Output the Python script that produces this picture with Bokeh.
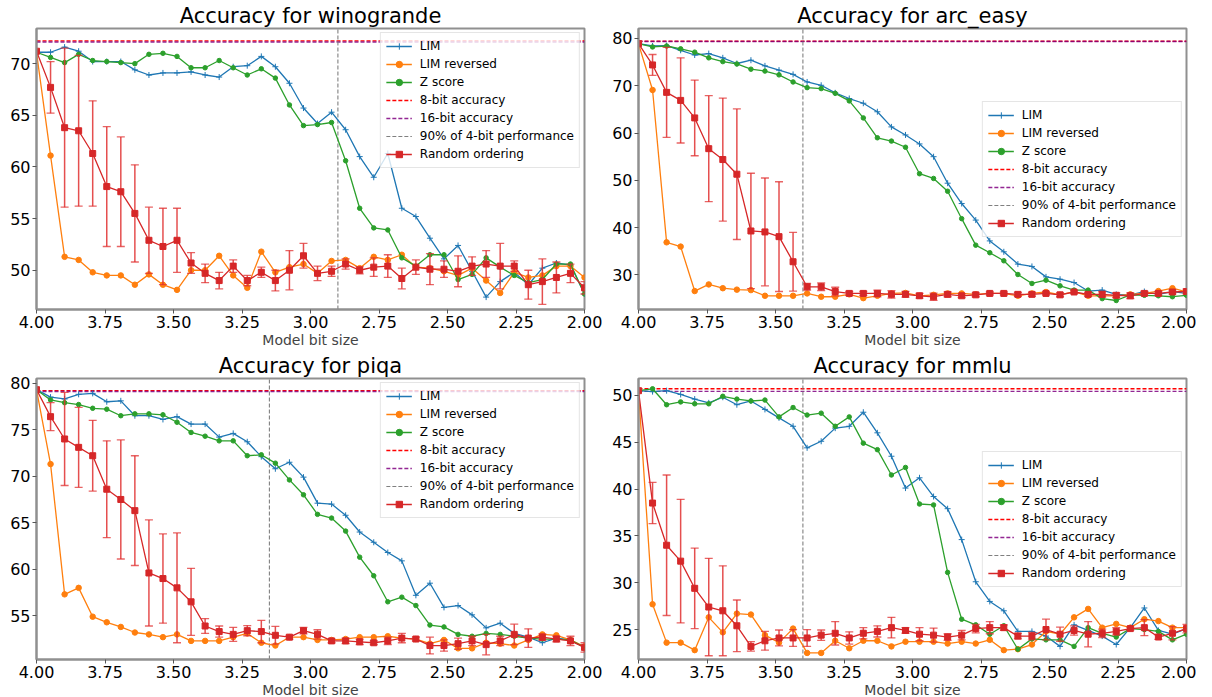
from bokeh.plotting import figure
from bokeh.models import Range1d, FixedTicker, NumeralTickFormatter, Legend, LegendItem, ColumnDataSource
from bokeh.layouts import column, row
from bokeh.embed import file_html
from bokeh.resources import INLINE

# ---------------- data ----------------
bits = [4.0, 3.9487, 3.8974, 3.8462, 3.7949, 3.7436, 3.6923, 3.6410, 3.5897, 3.5385,
        3.4872, 3.4359, 3.3846, 3.3333, 3.2821, 3.2308, 3.1795, 3.1282, 3.0769, 3.0256,
        2.9744, 2.9231, 2.8718, 2.8205, 2.7692, 2.7179, 2.6667, 2.6154, 2.5641, 2.5128,
        2.4615, 2.4103, 2.3590, 2.3077, 2.2564, 2.2051, 2.1538, 2.1026, 2.0513, 2.0]
x_ticks = [4.0, 3.75, 3.5, 3.25, 3.0, 2.75, 2.5, 2.25, 2.0]

# winogrande
wino_lim = [71.1, 71.1, 71.6, 71.2, 70.2, 70.2, 70.2, 69.4, 68.9, 69.1, 69.1, 69.2, 68.9, 68.7, 69.7, 69.8, 70.7, 69.7, 68.1, 65.7,
            64.2, 65.3, 63.6, 61.0, 59.0, 61.3, 56.0, 55.2, 53.1, 51.1, 52.4, 49.9, 47.4, 48.9, 49.8, 48.6, 50.2, 50.7, 50.5, 47.7]
wino_rev = [71.1, 61.1, 51.3, 51.0, 49.8, 49.5, 49.5, 48.6, 49.6, 48.6, 48.1, 50.0, 50.0, 51.4, 49.5, 48.3, 51.8, 49.8, 50.3, 50.6,
            49.7, 50.9, 51.0, 50.2, 51.3, 51.0, 51.5, 50.3, 50.2, 49.9, 49.5, 50.2, 49.0, 47.8, 49.8, 49.3, 49.5, 50.4, 50.4, 49.3]
wino_z = [71.1, 70.6, 70.1, 70.9, 70.3, 70.2, 70.1, 70.0, 70.9, 71.0, 70.7, 69.6, 69.6, 70.3, 69.6, 68.9, 69.5, 68.6, 66.0, 64.0,
          64.1, 64.3, 60.6, 56.0, 54.1, 53.9, 51.2, 50.4, 51.5, 51.5, 49.1, 49.6, 51.2, 50.3, 49.5, 48.8, 49.1, 50.6, 50.6, 47.7]
wino_rand = [71.2, 67.7, 63.8, 63.5, 61.3, 58.1, 57.6, 55.5, 52.9, 52.3, 52.9, 50.7, 49.7, 49.0, 50.4, 49.0, 49.8, 49.0, 50.0, 51.4,
             49.7, 49.9, 50.6, 50.0, 50.3, 50.4, 49.2, 50.3, 50.1, 50.1, 49.9, 50.4, 50.6, 50.4, 50.4, 48.6, 48.9, 49.3, 49.7, 48.3]
wino_err = [0, 2.5, 7.7, 7.3, 5.1, 5.8, 5.3, 4.7, 3.2, 3.7, 3.1, 1.0, 0.9, 0.8, 0.6, 0.5, 0.5, 1.0, 1.9, 1.2,
            0.7, 0.5, 0.5, 0.35, 0.9, 1.1, 1.0, 0.7, 1.5, 0.8, 1.5, 0.9, 1.3, 2.2, 0.5, 1.4, 2.2, 1.5, 0.9, 0.6]
wino_8bit, wino_16bit, wino_vline = 72.2, 72.1, 2.90

# arc_easy
arc_lim = [78.9, 78.4, 78.5, 77.5, 76.5, 76.8, 75.9, 74.7, 75.4, 74.2, 73.3, 72.4, 70.8, 70.1, 68.5, 67.3, 66.3, 64.5, 61.3, 59.6,
           57.7, 55.0, 49.4, 45.1, 41.6, 37.2, 34.9, 32.3, 31.8, 29.6, 29.1, 28.4, 26.6, 26.8, 25.9, 25.8, 26.5, 25.9, 26.5, 26.1]
arc_rev = [78.9, 69.1, 36.9, 36.0, 26.6, 28.0, 27.2, 26.9, 26.8, 25.6, 25.6, 25.6, 26.1, 25.4, 25.4, 25.9, 25.1, 25.6, 26.1, 26.2,
           25.6, 25.8, 26.1, 26.1, 25.9, 26.1, 26.1, 25.6, 26.1, 26.4, 25.8, 26.5, 25.6, 25.6, 25.6, 25.9, 26.1, 26.6, 27.2, 26.4]
arc_z = [78.9, 78.2, 78.4, 77.8, 77.1, 75.9, 75.1, 74.6, 73.5, 73.1, 72.3, 70.8, 69.6, 69.4, 68.4, 66.8, 63.2, 59.0, 58.3, 57.0,
         51.4, 50.4, 47.7, 41.9, 36.3, 34.7, 33.0, 30.1, 28.2, 28.9, 27.7, 26.8, 26.8, 25.0, 24.6, 25.8, 25.7, 25.6, 25.4, 25.7]
arc_rand = [78.9, 74.4, 68.6, 66.9, 63.2, 56.7, 54.4, 51.3, 39.3, 39.1, 38.1, 32.8, 27.5, 27.5, 26.5, 26.1, 26.1, 26.1, 25.9, 25.9,
            25.6, 25.4, 25.9, 25.6, 25.8, 26.1, 26.1, 25.9, 25.9, 26.1, 25.8, 26.4, 25.9, 25.9, 25.7, 25.6, 26.1, 26.1, 26.4, 26.5]
arc_err = [0, 2.2, 9.5, 9.0, 8.0, 11.2, 13.0, 13.8, 12.2, 11.4, 11.6, 6.2, 0.7, 0.8, 0.9, 0.4, 0.4, 0.7, 0.8, 0.6,
           0.5, 0.75, 0.5, 0.4, 0.4, 0.3, 0.3, 0.4, 0.4, 0.3, 0.4, 0.3, 0.4, 0.6, 0.5, 0.6, 0.4, 0.4, 0.4, 0.5]
arc_8bit, arc_16bit, arc_vline = 79.4, 79.35, 3.40

# piqa
piqa_lim = [79.3, 78.5, 78.3, 78.8, 78.9, 78.0, 78.1, 76.5, 76.5, 76.1, 76.4, 75.6, 75.6, 74.2, 74.6, 73.7, 72.1, 70.8, 71.5, 69.9,
            67.1, 67.0, 65.8, 64.0, 62.9, 61.8, 60.9, 57.2, 58.5, 55.9, 56.1, 55.1, 53.7, 54.2, 53.1, 52.7, 52.1, 52.6, 52.4, 51.6]
piqa_rev = [79.3, 71.3, 57.3, 58.0, 54.9, 54.3, 53.8, 53.2, 53.0, 52.7, 53.0, 52.3, 52.3, 52.3, 52.7, 53.1, 52.1, 51.8, 52.7, 52.7,
            52.4, 52.4, 52.5, 52.7, 52.7, 52.8, 52.6, 52.5, 52.0, 52.4, 51.5, 51.5, 52.1, 52.0, 51.8, 52.4, 53.0, 52.9, 52.4, 51.7]
piqa_z = [79.3, 78.2, 77.9, 77.7, 77.3, 77.2, 76.5, 76.7, 76.7, 76.6, 75.8, 74.7, 74.3, 73.8, 73.8, 72.2, 72.3, 71.4, 69.6, 68.0,
          65.9, 65.5, 64.1, 61.3, 59.3, 56.5, 57.0, 56.1, 54.0, 53.8, 53.0, 52.8, 53.1, 53.0, 52.8, 52.6, 52.5, 52.5, 52.4, 51.6]
piqa_rand = [79.3, 76.4, 74.0, 73.1, 72.2, 68.6, 67.5, 66.3, 59.6, 59.0, 58.0, 56.5, 53.9, 53.3, 53.0, 53.4, 53.3, 52.9, 52.7, 53.4,
             53.0, 52.3, 52.3, 52.2, 52.1, 52.3, 52.6, 52.5, 51.8, 51.8, 52.0, 52.3, 51.9, 52.3, 53.0, 52.6, 52.7, 52.5, 52.3, 51.6]
piqa_err = [0, 1.5, 5.0, 4.3, 3.8, 5.2, 6.4, 5.9, 5.7, 4.8, 5.9, 3.6, 0.8, 0.6, 0.75, 0.55, 1.2, 0.95, 0.2, 0.35,
            0.5, 0.2, 0.3, 0.3, 0.2, 0.4, 0.5, 0.2, 0.9, 0.6, 0.6, 0.5, 1.1, 0.5, 1.1, 1.0, 0.35, 0.3, 0.5, 0.5]
piqa_8bit, piqa_16bit, piqa_vline = 79.2, 79.1, 3.15

# mmlu
mmlu_lim = [50.5, 50.4, 50.5, 50.1, 49.6, 49.2, 49.8, 49.0, 49.4, 48.5, 47.6, 46.7, 44.4, 45.1, 46.5, 46.7, 48.2, 46.0, 43.5, 40.1,
            41.2, 39.2, 37.9, 34.6, 30.1, 28.0, 27.0, 24.8, 24.8, 24.3, 23.2, 25.5, 24.9, 24.3, 23.4, 25.2, 27.3, 24.9, 24.5, 25.1]
mmlu_rev = [50.5, 27.7, 23.6, 23.6, 22.8, 26.3, 24.7, 26.7, 26.6, 24.4, 23.6, 25.1, 22.5, 22.5, 23.8, 23.0, 23.8, 23.8, 23.2, 23.7,
            23.7, 23.7, 23.5, 23.7, 23.5, 23.9, 22.8, 22.9, 23.4, 24.8, 24.5, 26.3, 27.2, 25.2, 25.6, 25.2, 26.1, 25.9, 25.2, 25.2]
mmlu_z = [50.5, 50.7, 49.0, 49.3, 49.1, 49.1, 49.9, 49.6, 49.4, 49.5, 47.7, 48.7, 47.9, 48.1, 46.7, 47.7, 44.9, 44.2, 41.5, 42.3,
          38.4, 38.3, 31.1, 26.1, 25.5, 24.5, 25.4, 22.9, 24.0, 23.9, 23.9, 23.2, 25.2, 24.6, 24.2, 25.1, 25.0, 24.8, 23.9, 24.5]
mmlu_rand = [50.5, 38.5, 34.0, 32.3, 29.4, 27.4, 27.0, 25.4, 23.2, 23.8, 24.1, 24.1, 24.1, 24.4, 24.6, 24.1, 24.6, 24.8, 25.2, 24.9,
             24.5, 24.4, 24.2, 24.4, 25.1, 25.2, 25.2, 24.3, 24.3, 25.0, 24.5, 24.9, 24.5, 24.6, 24.8, 25.1, 25.2, 24.2, 24.6, 25.1]
mmlu_err = [0, 2.2, 7.5, 6.6, 4.3, 5.2, 4.8, 2.75, 0.5, 1.0, 0.85, 0.9, 0.9, 0.55, 1.25, 0.65, 0.6, 0.6, 1.1, 0.3,
            0.7, 0.75, 0.35, 0.5, 0.45, 0.65, 0.3, 0.3, 0.4, 1.1, 0.75, 0.5, 1.35, 0.45, 0.4, 0.15, 0.85, 0.25, 0.7, 0.45]
mmlu_8bit, mmlu_16bit, mmlu_vline = 50.7, 50.43, 3.40

# ---------------- style ----------------
FONT = "DejaVu Sans"
C_LIM, C_REV, C_Z, C_RAND = "#1f77b4", "#ff7f0e", "#2ca02c", "#d62728"
C_8, C_16, C_V = "#ff0000", "#800080", "#808080"


def panel(name, lim, rev, z, rmean, rerr, b8, b16, vline, yr, yticks, loc, left_border, right_border, top_border):
    p = figure(frame_width=548, frame_height=281,
               x_range=Range1d(bits[0], bits[-1]), y_range=Range1d(*yr),
               output_backend="svg", toolbar_location=None,
               min_border_left=left_border, min_border_right=right_border,
               min_border_top=top_border, min_border_bottom=34,
               background_fill_color="white", border_fill_color="white")
    p.title.text = "Accuracy for " + name
    p.title.text_font = FONT
    p.title.text_font_size = "21px"
    p.title.text_font_style = "normal"
    p.title.align = "center"
    p.title.standoff = 2
    p.title.text_color = "black"

    p.xgrid.visible = False
    p.ygrid.visible = False
    p.xaxis.ticker = FixedTicker(ticks=x_ticks)
    p.xaxis.formatter = NumeralTickFormatter(format="0.00")
    p.yaxis.ticker = FixedTicker(ticks=yticks)
    p.xaxis.axis_label = "Model bit size"
    p.xaxis.axis_label_text_font = FONT
    p.xaxis.axis_label_text_font_size = "14px"
    p.xaxis.axis_label_text_font_style = "normal"
    p.xaxis.axis_label_standoff = 1
    for ax in (p.xaxis, p.yaxis):
        ax.major_label_text_font = FONT
        ax.major_label_text_font_size = "16px"
        ax.major_label_text_color = "black"
        ax.major_label_standoff = 2
        ax.minor_tick_line_color = None
        ax.major_tick_line_color = "#555555"
        ax.major_tick_out = 4
        ax.major_tick_in = 0
        ax.axis_line_color = "#909090"
        ax.axis_line_width = 2
    p.outline_line_color = "#909090"
    p.outline_line_width = 2

    # horizontal reference lines and vertical 90% line
    r8 = p.line([bits[0], bits[-1]], [b8, b8], line_color=C_8, line_dash="4 2", line_width=1.4)
    r16 = p.line([bits[0], bits[-1]], [b16, b16], line_color=C_16, line_dash="4 2", line_width=1.4, line_alpha=0.85)
    rv = p.line([vline, vline], [yr[0], yr[1]], line_color=C_V, line_dash="4 2", line_width=1.1)

    # methods
    l1 = p.line(bits, lim, line_color=C_LIM, line_width=1.3)
    m1 = p.scatter(bits, lim, marker="cross", size=6, line_color=C_LIM, line_width=1)
    l2 = p.line(bits, rev, line_color=C_REV, line_width=1.3)
    m2 = p.scatter(bits, rev, marker="circle", size=5.5, fill_color=C_REV, line_color=C_REV)
    l3 = p.line(bits, z, line_color=C_Z, line_width=1.3)
    m3 = p.scatter(bits, z, marker="circle", size=4.5, fill_color=C_Z, line_color=C_Z)

    # random ordering with error bars
    lo = [m - e for m, e in zip(rmean, rerr)]
    hi = [m + e for m, e in zip(rmean, rerr)]
    src = ColumnDataSource(dict(x=bits, m=rmean, lo=lo, hi=hi))
    has_err = [i for i, e in enumerate(rerr) if e > 0]
    esrc = ColumnDataSource(dict(x=[bits[i] for i in has_err], lo=[lo[i] for i in has_err], hi=[hi[i] for i in has_err]))
    p.segment(x0="x", y0="lo", x1="x", y1="hi", source=esrc, line_color="#e03030", line_width=1.5, line_alpha=0.85)
    p.scatter(x="x", y="lo", source=esrc, marker="dash", size=8, line_color="#e03030", line_width=1.3, line_alpha=0.75)
    p.scatter(x="x", y="hi", source=esrc, marker="dash", size=8, line_color="#e03030", line_width=1.3, line_alpha=0.75)
    l4 = p.line("x", "m", source=src, line_color=C_RAND, line_width=1.3)
    m4 = p.scatter("x", "m", source=src, marker="square", size=6, fill_color=C_RAND, line_color=C_RAND)

    legend = Legend(items=[
        LegendItem(label="LIM", renderers=[l1, m1]),
        LegendItem(label="LIM reversed", renderers=[l2, m2]),
        LegendItem(label="Z score", renderers=[l3, m3]),
        LegendItem(label="8-bit accuracy", renderers=[r8]),
        LegendItem(label="16-bit accuracy", renderers=[r16]),
        LegendItem(label="90% of 4-bit performance", renderers=[rv]),
        LegendItem(label="Random ordering", renderers=[l4, m4]),
    ], location=loc)
    legend.label_text_font = FONT
    legend.label_text_font_size = "12px"
    legend.label_text_color = "black"
    legend.glyph_width = 26
    legend.glyph_height = 16
    legend.label_height = 16
    legend.spacing = 2
    legend.padding = 5
    legend.margin = 4
    legend.label_standoff = 8
    legend.border_line_color = "#cccccc"
    legend.border_line_width = 1
    legend.background_fill_color = "white"
    legend.background_fill_alpha = 0.8
    p.add_layout(legend)
    return p


p1 = panel("winogrande", wino_lim, wino_rev, wino_z, wino_rand, wino_err, wino_8bit, wino_16bit, wino_vline,
           (46.2, 73.4), [50, 55, 60, 65, 70], "top_right", 36, 24, 20)
p2 = panel("arc_easy", arc_lim, arc_rev, arc_z, arc_rand, arc_err, arc_8bit, arc_16bit, arc_vline,
           (22.7, 82.1), [30, 40, 50, 60, 70, 80], "right", 30, 10, 20)
p3 = panel("piqa", piqa_lim, piqa_rev, piqa_z, piqa_rand, piqa_err, piqa_8bit, piqa_16bit, piqa_vline,
           (50.3, 80.5), [55, 60, 65, 70, 75, 80], "top_right", 36, 24, 20)
p4 = panel("mmlu", mmlu_lim, mmlu_rev, mmlu_z, mmlu_rand, mmlu_err, mmlu_8bit, mmlu_16bit, mmlu_vline,
           (21.8, 51.8), [25, 30, 35, 40, 45, 50], "right", 30, 10, 20)

layout = column(row(p1, p2), row(p3, p4))
open("out.html", "w").write(file_html(layout, INLINE))
